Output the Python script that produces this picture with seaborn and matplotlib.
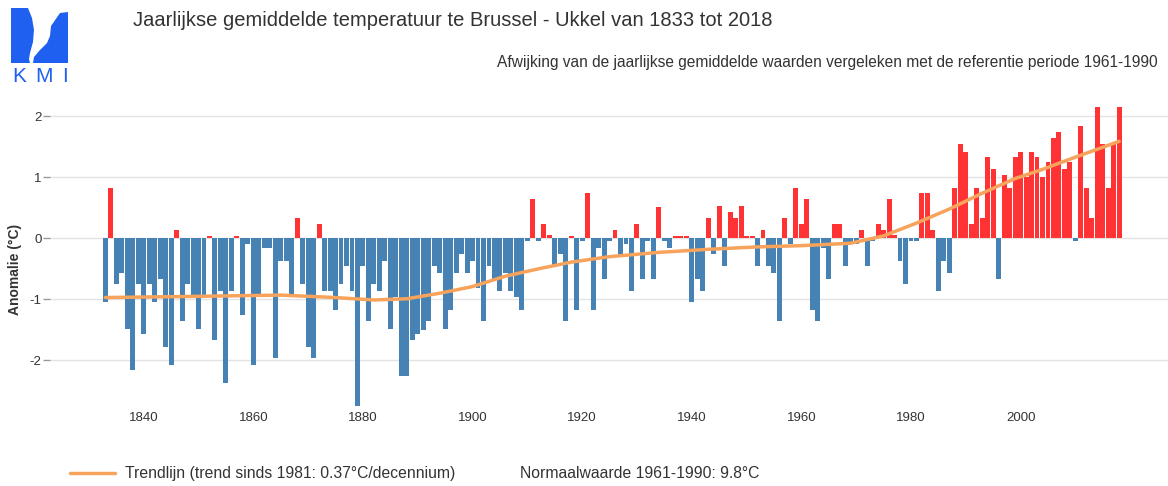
import matplotlib
matplotlib.use("Agg")
import matplotlib.pyplot as plt
import seaborn as sns
import pandas as pd
from matplotlib.lines import Line2D
from matplotlib.patches import Polygon

# jaarlijkse anomalie t.o.v. 1961-1990
jaren = list(range(1833, 2019))
anomalie = [
    -1.05, 0.82, -0.75, -0.57, -1.48, -2.16, -0.75, -1.57, -0.75, -1.05,  # 1833-1842
    -0.67, -1.78, -2.07, 0.14, -1.35, -0.75, -0.94, -1.48, -0.94, 0.04,   # 1843-1852
    -1.66, -0.87, -2.37, -0.87, 0.04, -1.26, -0.10, -2.08, -0.94, -0.16,  # 1853-1862
    -0.16, -1.96, -0.37, -0.37, -0.94, 0.34, -0.75, -1.78, -1.96, 0.23,   # 1863-1872
    -0.87, -0.87, -1.17, -0.75, -0.46, -0.87, -2.75, -0.46, -1.35, -0.75,  # 1873-1882
    -0.87, -0.37, -1.48, -0.96, -2.26, -2.26, -1.66, -1.57, -1.50, -1.35,  # 1883-1892
    -0.46, -0.57, -1.48, -1.17, -0.57, -0.26, -0.57, -0.37, -0.82, -1.35,  # 1893-1902
    -0.46, -0.66, -0.87, -0.57, -0.87, -0.96, -1.17, -0.05, 0.64, -0.05,   # 1903-1912
    0.23, 0.05, -0.46, -0.26, -1.35, 0.04, -1.17, -0.05, 0.74, -1.17,      # 1913-1922
    -0.15, -0.66, -0.05, 0.14, -0.30, -0.10, -0.87, 0.23, -0.66, -0.05,    # 1923-1932
    -0.66, 0.52, -0.05, -0.16, 0.04, 0.04, 0.04, -1.05, -0.66, -0.87,      # 1933-1942
    0.34, -0.25, 0.53, -0.46, 0.43, 0.34, 0.53, 0.04, 0.04, -0.46,         # 1943-1952
    0.14, -0.46, -0.57, -1.35, 0.34, -0.10, 0.82, 0.23, 0.64, -1.17,       # 1953-1962
    -1.35, -0.16, -0.66, 0.23, 0.23, -0.46, -0.10, -0.10, 0.14, -0.46,     # 1963-1972
    -0.05, 0.23, 0.14, 0.64, 0.05, -0.37, -0.75, -0.05, -0.05, 0.74,       # 1973-1982
    0.74, 0.14, -0.87, -0.37, -0.57, 0.82, 1.54, 1.42, 0.23, 0.82,         # 1983-1992
    0.34, 1.33, 1.13, -0.66, 1.03, 0.82, 1.33, 1.42, 1.00, 1.42,           # 1993-2002
    1.33, 1.00, 1.25, 1.64, 1.75, 1.13, 1.25, -0.05, 1.84, 0.82,           # 2003-2012
    0.34, 2.15, 1.55, 0.82, 1.56, 2.15,                                    # 2013-2018
]

trend_jaren = [1833, 1850, 1865, 1875, 1882, 1888, 1894, 1900, 1906, 1912, 1918,
               1925, 1934, 1943, 1952, 1960, 1969, 1975, 1981, 1987, 1993, 1999,
               2004, 2010, 2018]
trend_waarden = [-0.97, -0.95, -0.93, -0.97, -1.01, -0.99, -0.90, -0.79, -0.62, -0.50,
                 -0.39, -0.30, -0.23, -0.18, -0.14, -0.12, -0.08, 0.04, 0.25, 0.48,
                 0.74, 0.98, 1.13, 1.33, 1.59]

x_ticks = [1840, 1860, 1880, 1900, 1920, 1940, 1960, 1980, 2000]
y_ticks = [-2, -1, 0, 1, 2]

blauw = "#4682B4"
rood = "#FF3333"
oranje = "#F7A35C"
kmi_blauw = "#2060F0"

df = pd.DataFrame({"jaar": jaren, "anomalie": anomalie})
df["teken"] = ["pos" if v > 0 else "neg" for v in df["anomalie"]]

sns.set_theme(style="white")
plt.rcParams["font.family"] = ["Liberation Sans", "DejaVu Sans"]
plt.rcParams["axes.unicode_minus"] = False

W, H = 1168, 486
fig = plt.figure(figsize=(W / 100, H / 100), dpi=100)
ax = fig.add_axes([50 / W, 1 - 408 / H, (W - 50) / W, (408 - 100) / H])

sns.barplot(data=df, x="jaar", y="anomalie", hue="teken",
            palette={"pos": rood, "neg": blauw}, native_scale=True,
            dodge=False, width=0.9, saturation=1, errorbar=None,
            legend=False, linewidth=0, ax=ax)
sns.lineplot(x=trend_jaren, y=trend_waarden, color=oranje, linewidth=2.5, ax=ax)

ax.set_xlim(1822.9, 2026.9)
ax.set_ylim(-2.78, 2.267)
ax.set_yticks(y_ticks)
ax.set_yticklabels([str(t) for t in y_ticks])
ax.set_xticks(x_ticks)
ax.set_xticklabels([str(t) for t in x_ticks])
ax.set_xlabel("")
ax.set_ylabel("")
ax.yaxis.grid(True, color="#E3E3E3", linewidth=1)
ax.set_axisbelow(True)
for s in ax.spines.values():
    s.set_visible(False)
ax.tick_params(axis="y", left=True, length=5, width=1, color="#999999",
               pad=1, labelsize=9.5, labelcolor="#333333")
ax.tick_params(axis="x", bottom=False, pad=-3, labelsize=9.5, labelcolor="#333333")

fig.text(15 / W, 1 - 269 / H, "Anomalie (°C)", rotation=90, ha="center",
         va="center", fontsize=10, fontweight="bold", color="#333333")

# titels
fig.text(133 / W, 1 - 20 / H,
         "Jaarlijkse gemiddelde temperatuur te Brussel - Ukkel van 1833 tot 2018",
         ha="left", va="center", fontsize=14.5, color="#333333")
fig.text(1158 / W, 1 - 62 / H,
         "Afwijking van de jaarlijkse gemiddelde waarden vergeleken met de referentie periode 1961-1990",
         ha="right", va="center", fontsize=11.2, color="#333333")

# legende onderaan
fig.add_artist(Line2D([70 / W, 115 / W], [1 - 473 / H] * 2, color=oranje, linewidth=2.5))
fig.text(125 / W, 1 - 473 / H, "Trendlijn (trend sinds 1981: 0.37°C/decennium)",
         ha="left", va="center", fontsize=11.3, color="#333333")
fig.text(520 / W, 1 - 473 / H, "Normaalwaarde 1961-1990: 9.8°C",
         ha="left", va="center", fontsize=11.3, color="#333333")

# KMI logo
lax = fig.add_axes([0, 1 - 90 / H, 90 / W, 90 / H])
lax.set_xlim(0, 90)
lax.set_ylim(90, 0)
lax.axis("off")
links = [(11, 8), (28, 8), (32, 18), (34, 30), (33, 42), (30, 53), (29, 59), (30, 63), (11, 63)]
rechts = [(60, 13), (68, 12), (68, 63), (33, 63), (34, 57), (40, 50), (47, 43), (50, 36), (51, 26)]
lax.add_patch(Polygon(links, closed=True, color=kmi_blauw, linewidth=0))
lax.add_patch(Polygon(rechts, closed=True, color=kmi_blauw, linewidth=0))
for letter, xpos in [("K", 19.5), ("M", 44), ("I", 65.5)]:
    lax.text(xpos, 76, letter, ha="center", va="center", fontsize=15, color=kmi_blauw)

fig.savefig("out.png", dpi=100, facecolor="white")
